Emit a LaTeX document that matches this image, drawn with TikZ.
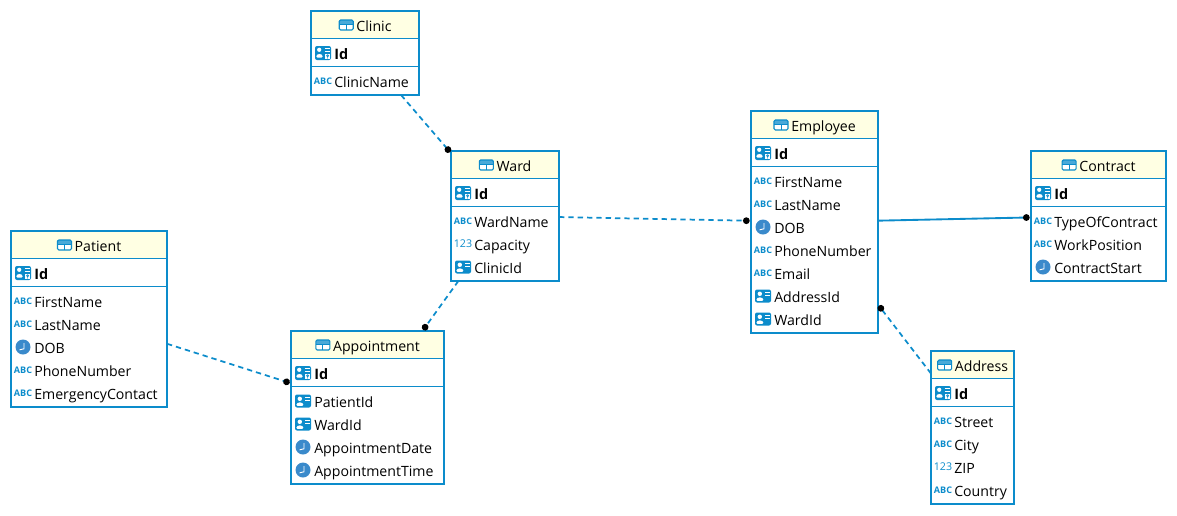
\documentclass[tikz,border=0pt]{standalone}
\usepackage{fontspec}
\setmainfont{Open Sans}
\usetikzlibrary{arrows.meta}

\definecolor{erblue}{HTML}{0C8CCB}
\definecolor{erhead}{HTML}{FFFFE3}
\definecolor{erclock}{HTML}{3A8ACB}

\tikzset{
    tablebox/.style={draw=erblue, line width=1.5pt, inner sep=0pt, outer sep=0pt, anchor=north west},
    titletext/.style={anchor=base, inner sep=0pt, font=\fontsize{10.6}{13}\selectfont},
    idtext/.style={anchor=base west, inner sep=0pt, font=\fontsize{10.8}{13}\selectfont\bfseries},
    fieldtext/.style={anchor=base west, inner sep=0pt, font=\fontsize{10.6}{13}\selectfont},
    icontext/.style={inner sep=0pt, text=erblue},
    fklink/.style={erblue, line width=1.3pt, dash pattern=on 4pt off 3pt, shorten >=1pt, -{Circle[black,length=5pt]}},
    solidlink/.style={erblue, line width=1.4pt, shorten >=1pt, -{Circle[black,length=5pt]}},
    tableicon/.pic={
        \fill[erblue!75] (-7,-5) rectangle (7,-1);
        \fill[white] (-6,0) rectangle (-0.5,4);
        \fill[white] (0.5,0) rectangle (6,4);
        \draw[erblue, line width=0.8pt, rounded corners=1pt] (-7,-5) rectangle (7,5);
        \draw[erblue, line width=0.6pt] (0,-1) -- (0,5) (-7,-0.5) -- (7,-0.5);
    },
    idicon/.pic={
        \fill[erblue, rounded corners=1.5pt] (-8,-7) rectangle (8,7);
        \fill[white] (-3.8,-3.2) circle (2.1);
        \fill[white, rounded corners=0.8pt] (-6.6,4.6) -- (-6.6,2.2) -- (-4.6,1) -- (-2.6,1) -- (-0.4,2.2) -- (-0.4,4.6) -- cycle;
        \draw[white, line width=0.5pt] (1.5,-4.5) -- (6.5,-4.5) (1.5,-2) -- (6.5,-2);
        \fill[white] (2.4,1.2) rectangle (6.8,6.2);
        \draw[erblue, line width=0.5pt] (4.6,2.8) circle (1) (4.6,3.8) -- (4.6,5.6);
    },
    fkicon/.pic={
        \fill[erblue, rounded corners=1.5pt] (-8,-6.5) rectangle (8,6.5);
        \fill[white] (-3.2,-2.2) circle (2.2);
        \fill[white, rounded corners=0.8pt] (-6.6,4.8) -- (-6.6,2.8) -- (-4.4,1.4) -- (-2,1.4) -- (0.4,2.8) -- (0.4,4.8) -- cycle;
        \draw[white, line width=0.6pt] (2,-3.6) -- (6.5,-3.6) (2,-1) -- (6.5,-1);
    },
    clockicon/.pic={
        \fill[erclock] (0,0) circle (7.5);
        \draw[white, line width=0.7pt] (1,-3.8) -- (1,1.8) -- (-3.4,2.8);
    },
    abcicon/.pic={
        \node[icontext, font=\fontsize{6.8}{8}\selectfont\bfseries] (abc) at (0,0.5) {ABC};
    },
    numicon/.pic={
        \node[icontext, font=\fontsize{8}{9}\selectfont] (num) at (0,-0.5) {123};
    },
}

% name, left, top, width, rows, title, fields
\newcommand{\erTable}[7]{
    \pgfmathsetmacro{\erH}{61+23*#5}
    \pgfmathsetmacro{\erCx}{#2+#4/2+9}
    \fill[erhead] (#2,#3) rectangle ++(#4,28);
    \node[tablebox, minimum width=#4*0.75pt, minimum height=\erH*0.75pt] (#1) at (#2,#3) {};
    \draw[erblue, line width=0.7pt] (#2,#3+27.5) -- ++(#4,0) (#2,#3+55.5) -- ++(#4,0);
    \node[titletext] (#1-title) at (\erCx,#3+20) {#6};
    \pic at ([xshift=-7.5pt]#1-title.west |- \erCx,#3+14) {tableicon};
    \pic at (#2+12,#3+42) {idicon};
    \node[idtext] (#1-id) at (#2+23,#3+48) {Id};
    \foreach \ico/\txt [count=\i from 0] in {#7} {
        \pic at (#2+12,#3+70+23*\i) {\ico};
        \node[fieldtext] (#1-\i) at (#2+23,#3+76+23*\i) {\txt};
    }
}

\begin{document}
\begin{tikzpicture}[x=0.75pt,y=-0.75pt]

    \useasboundingbox (0,0) rectangle (1177,515);

    \erTable{clinic}{311}{11}{108}{1}{Clinic}{abcicon/ClinicName}
    \erTable{ward}{451}{151}{108}{3}{Ward}{abcicon/WardName, numicon/Capacity, fkicon/ClinicId}
    \erTable{patient}{11}{231}{156}{5}{Patient}{abcicon/FirstName, abcicon/LastName, clockicon/DOB, abcicon/PhoneNumber, abcicon/EmergencyContact}
    \erTable{appointment}{291}{331}{153}{4}{Appointment}{fkicon/PatientId, fkicon/WardId, clockicon/AppointmentDate, clockicon/AppointmentTime}
    \erTable{employee}{751}{111}{127}{7}{Employee}{abcicon/FirstName, abcicon/LastName, clockicon/DOB, abcicon/PhoneNumber, abcicon/Email, fkicon/AddressId, fkicon/WardId}
    \erTable{contract}{1031}{151}{135}{3}{Contract}{abcicon/TypeOfContract, abcicon/WorkPosition, clockicon/ContractStart}
    \erTable{address}{931}{351}{83}{4}{Address}{abcicon/Street, abcicon/City, numicon/ZIP, abcicon/Country}

    % dot sits on the referencing table
    \draw[fklink] (clinic) -- (ward);
    \draw[fklink] (ward) -- (appointment);
    \draw[fklink] (patient) -- (appointment);
    \draw[fklink] (ward) -- (employee);
    \draw[solidlink] (employee) -- (contract);
    \draw[fklink] (address) -- (employee);

\end{tikzpicture}
\end{document}
